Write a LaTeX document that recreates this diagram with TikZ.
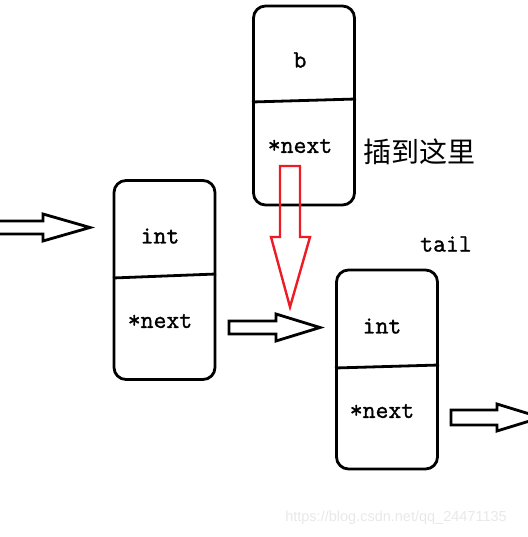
\documentclass[tikz,border=0pt]{standalone}
\usepackage{fontspec}
\setmainfont{Liberation Serif}
\newfontfamily\codefont[FakeBold=1.3]{Latin Modern Mono}
\newfontfamily\cjk{Noto Sans CJK SC}
\newfontfamily\wmfont{Liberation Sans}
\begin{document}
\begin{tikzpicture}[x=1pt,y=-1pt,
  nodebox/.style={draw=black,line width=2.8pt,rounded corners=12pt,minimum width=101pt,minimum height=199pt,inner sep=0pt},
  field/.style={font=\codefont\fontsize{25}{27}\selectfont,inner sep=0pt},
  divider/.style={line width=2.8pt},
  blockarrow/.style={draw=black,line width=2.8pt,line join=miter},
  redarrow/.style={draw={rgb,255:red,237;green,28;blue,36},line width=2.4pt,line join=miter}]
\useasboundingbox (0,0) rectangle (527,537);
% nodes
\node[nodebox] (bbox) at (304,105.5) {};
\node[nodebox] (abox) at (164.5,280) {};
\node[nodebox] (tbox) at (387,369.5) {};
% dividers
\coordinate (bdl) at (252,102); \coordinate (bdr) at (356,99);
\coordinate (adl) at (113,278); \coordinate (adr) at (216,274);
\coordinate (tdl) at (335,368); \coordinate (tdr) at (439,365);
\draw[divider] (bdl) -- (bdr);
\draw[divider] (adl) -- (adr);
\draw[divider] (tdl) -- (tdr);
% texts
\node[field] (bval) at (300,60) {b};
\node[field] (bnext) at (300,146) {*next};
\node[field] (aval) at (160,236) {int};
\node[field] (anext) at (160,321) {*next};
\node[field] (tval) at (382,326) {int};
\node[field] (tnext) at (382,411) {*next};
\node[field] (taillbl) at (446,244) {tail};
\node[font=\cjk\fontsize{28}{30}\selectfont,inner sep=0pt] (insert) at (419,152) {插到这里};
\node[font=\wmfont\fontsize{14.5}{16}\selectfont,text={rgb,255:red,232;green,232;blue,232},inner sep=0pt] (wm) at (396,518) {https://blog.csdn.net/qq\_24471135};
% block arrows
\draw[blockarrow] (0,221) -- (43,221) -- (43,214) -- (90,227.5) -- (43,241) -- (43,234) -- (0,234);
\draw[blockarrow] (229,321) -- (276,321) -- (276,314) -- (320,327.5) -- (276,341) -- (276,334) -- (229,334) -- cycle;
\draw[blockarrow] (451,410) -- (497,410) -- (497,404) -- (541,417.5) -- (497,431) -- (497,425) -- (451,425) -- cycle;
% red insertion arrow
\draw[redarrow] (280,166) -- (280,237) -- (271,237) -- (290,307) -- (310,237) -- (300,237) -- (300,166) -- cycle;
\end{tikzpicture}
\end{document}
